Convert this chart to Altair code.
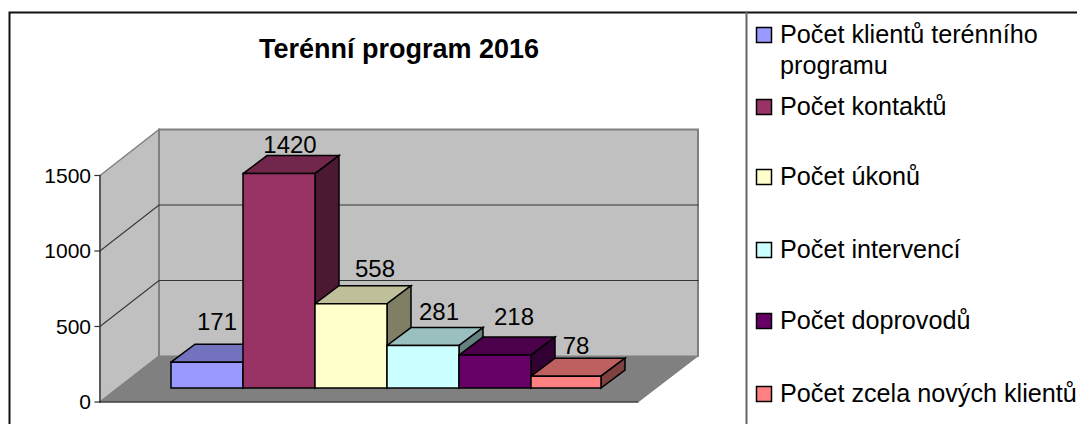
import altair as alt
import pandas as pd

# --- chart values ---
title = "Terénní program 2016"
categories = ["Počet klientů terénního programu", "Počet kontaktů", "Počet úkonů",
              "Počet intervencí", "Počet doprovodů", "Počet zcela nových klientů"]
values = [171, 1420, 558, 281, 218, 78]
ticks = [0, 500, 1000, 1500]
colors = ["#9999FF", "#993366", "#FFFFCC", "#CCFFFF", "#660066", "#FF8080"]

# --- layout of the oblique projection (page pixels) ---
PX_PER_UNIT = 0.151
FRONT_X, BACK_X, FRONT_RIGHT, BACK_RIGHT = 100, 159, 638, 698
FRONT_BASE, BACK_BASE, BAR_BASE = 402, 356, 388
BAR_EDGES = [171, 243, 315, 387, 459, 531, 601]
DEPTH_X, DEPTH_Y = 24, 18
LABEL_DX = [46, 47, 60, 52, 55, 45]
LABEL_RISE = [32, 21, 27, 26, 30, 22]
LEGEND_BASE = [[43, 74], [115], [185], [258], [329], [402]]
LEGEND_LINES = [["Počet klientů terénního", "programu"], ["Počet kontaktů"], ["Počet úkonů"],
                ["Počet intervencí"], ["Počet doprovodů"], ["Počet zcela nových klientů"]]
W, H = 1069, 416


def shade(hex_color, factor):
    r, g, b = (int(hex_color[i:i + 2], 16) for i in (1, 3, 5))
    return "#%02X%02X%02X" % (int(r * factor), int(g * factor), int(b * factor))


polys = []


def poly(points, fill, stroke, sw):
    pid = len(polys) and polys[-1]["pid"] + 1
    for s, (x, y) in enumerate(points):
        polys.append(dict(pid=pid, seq=s, x=x, y=y, fill=fill, stroke=stroke, sw=sw))


def front_y(v):
    return FRONT_BASE - v * PX_PER_UNIT


def back_y(v):
    return BACK_BASE - v * PX_PER_UNIT


top = back_y(1500)
wall_top_front = front_y(1500)
# side wall, back wall, floor
poly([(FRONT_X, FRONT_BASE), (FRONT_X, wall_top_front), (BACK_X, top), (BACK_X, BACK_BASE), (FRONT_X, FRONT_BASE)],
     "#C0C0C0", "#808080", 1.5)
poly([(BACK_X, BACK_BASE), (BACK_X, top), (BACK_RIGHT, top), (BACK_RIGHT, BACK_BASE)],
     "#C0C0C0", "#808080", 2)
poly([(FRONT_X, FRONT_BASE), (BACK_X, BACK_BASE), (BACK_RIGHT, BACK_BASE), (FRONT_RIGHT, FRONT_BASE), (FRONT_X, FRONT_BASE)],
     "#808080", "#808080", 1)
# gridlines
for t in ticks[1:-1]:
    poly([(FRONT_X, front_y(t)), (BACK_X, back_y(t)), (BACK_RIGHT, back_y(t))], "transparent", "#333333", 1.2)
# floor front edge and value axis
poly([(FRONT_X, FRONT_BASE), (FRONT_RIGHT, FRONT_BASE)], "transparent", "#222222", 1.2)
poly([(FRONT_X, FRONT_BASE), (FRONT_X, wall_top_front)], "transparent", "#333333", 1.2)
for t in ticks:
    poly([(FRONT_X - 5, front_y(t)), (FRONT_X, front_y(t))], "transparent", "#333333", 1.2)
# bars, painted left to right
for i, (v, c) in enumerate(zip(values, colors)):
    x0, x1 = BAR_EDGES[i], BAR_EDGES[i + 1]
    yt = BAR_BASE - v * PX_PER_UNIT
    poly([(x0, yt), (x0 + DEPTH_X, yt - DEPTH_Y), (x1 + DEPTH_X, yt - DEPTH_Y), (x1, yt), (x0, yt)],
         shade(c, 0.75), "#000000", 1.5)
    poly([(x1, yt), (x1 + DEPTH_X, yt - DEPTH_Y), (x1 + DEPTH_X, BAR_BASE - DEPTH_Y), (x1, BAR_BASE), (x1, yt)],
         shade(c, 0.5), "#000000", 1.5)
    poly([(x0, BAR_BASE), (x0, yt), (x1, yt), (x1, BAR_BASE), (x0, BAR_BASE)], c, "#000000", 1.5)
# chart frame and divider
poly([(9.5, H + 8), (9.5, 12.5), (W + 8, 12.5)], "transparent", "#111111", 2)
poly([(746.5, 12.5), (746.5, H + 8)], "transparent", "#666666", 2)

X = alt.Scale(domain=[8, 8 + W], range=[0, W])
Y = alt.Scale(domain=[8, 8 + H], range=[0, H])
x = alt.X("x:Q", scale=X, axis=None)
y = alt.Y("y:Q", scale=Y, axis=None)

shapes = alt.Chart(pd.DataFrame(polys)).mark_line(strokeJoin="miter", strokeCap="square").encode(
    x=x, y=y,
    detail="pid:N",
    order="seq:Q",
    fill=alt.Fill("fill:N", scale=None),
    stroke=alt.Stroke("stroke:N", scale=None),
    strokeWidth=alt.StrokeWidth("sw:Q", scale=None),
)

FONT = "Liberation Sans"

tick_df = pd.DataFrame({"x": [FRONT_X - 9] * len(ticks), "y": [front_y(t) + 7 for t in ticks],
                        "t": [str(t) for t in ticks]})
tick_text = alt.Chart(tick_df).mark_text(font=FONT, fontSize=21, align="right", baseline="alphabetic",
                                         color="#000000").encode(x=x, y=y, text="t:N")

label_df = pd.DataFrame({"x": [e + d for e, d in zip(BAR_EDGES, LABEL_DX)],
                         "y": [BAR_BASE - v * PX_PER_UNIT - r for v, r in zip(values, LABEL_RISE)],
                         "t": [str(v) for v in values]})
label_text = alt.Chart(label_df).mark_text(font=FONT, fontSize=24, align="center", baseline="alphabetic",
                                           color="#000000").encode(x=x, y=y, text="t:N")

title_df = pd.DataFrame({"x": [399], "y": [58], "t": [title]})
title_text = alt.Chart(title_df).mark_text(font=FONT, fontSize=27, fontWeight="bold", align="center",
                                           baseline="alphabetic", color="#000000").encode(x=x, y=y, text="t:N")

legend_rows = [dict(x=780, y=b, t=t) for lines, bases in zip(LEGEND_LINES, LEGEND_BASE)
               for t, b in zip(lines, bases)]
legend_text = alt.Chart(pd.DataFrame(legend_rows)).mark_text(font=FONT, fontSize=25.2, align="left",
                                                             baseline="alphabetic", color="#000000").encode(
    x=x, y=y, text="t:N")

swatch_rows = [dict(x=756.5, x2=771.5, y=bases[0] - 15.5, y2=bases[0] - 0.5, c=c)
               for bases, c in zip(LEGEND_BASE, colors)]
swatches = alt.Chart(pd.DataFrame(swatch_rows)).mark_rect(stroke="#000000", strokeWidth=1.5).encode(
    x=x, x2="x2:Q", y=y, y2="y2:Q", fill=alt.Fill("c:N", scale=None))

chart = alt.layer(shapes, tick_text, label_text, title_text, swatches, legend_text).properties(
    width=W, height=H, padding=0, autosize=alt.AutoSizeParams(type="none"), background="#FFFFFF"
).configure_view(stroke=None)

chart.save("out.html", embed_options={"renderer": "svg", "actions": False})
